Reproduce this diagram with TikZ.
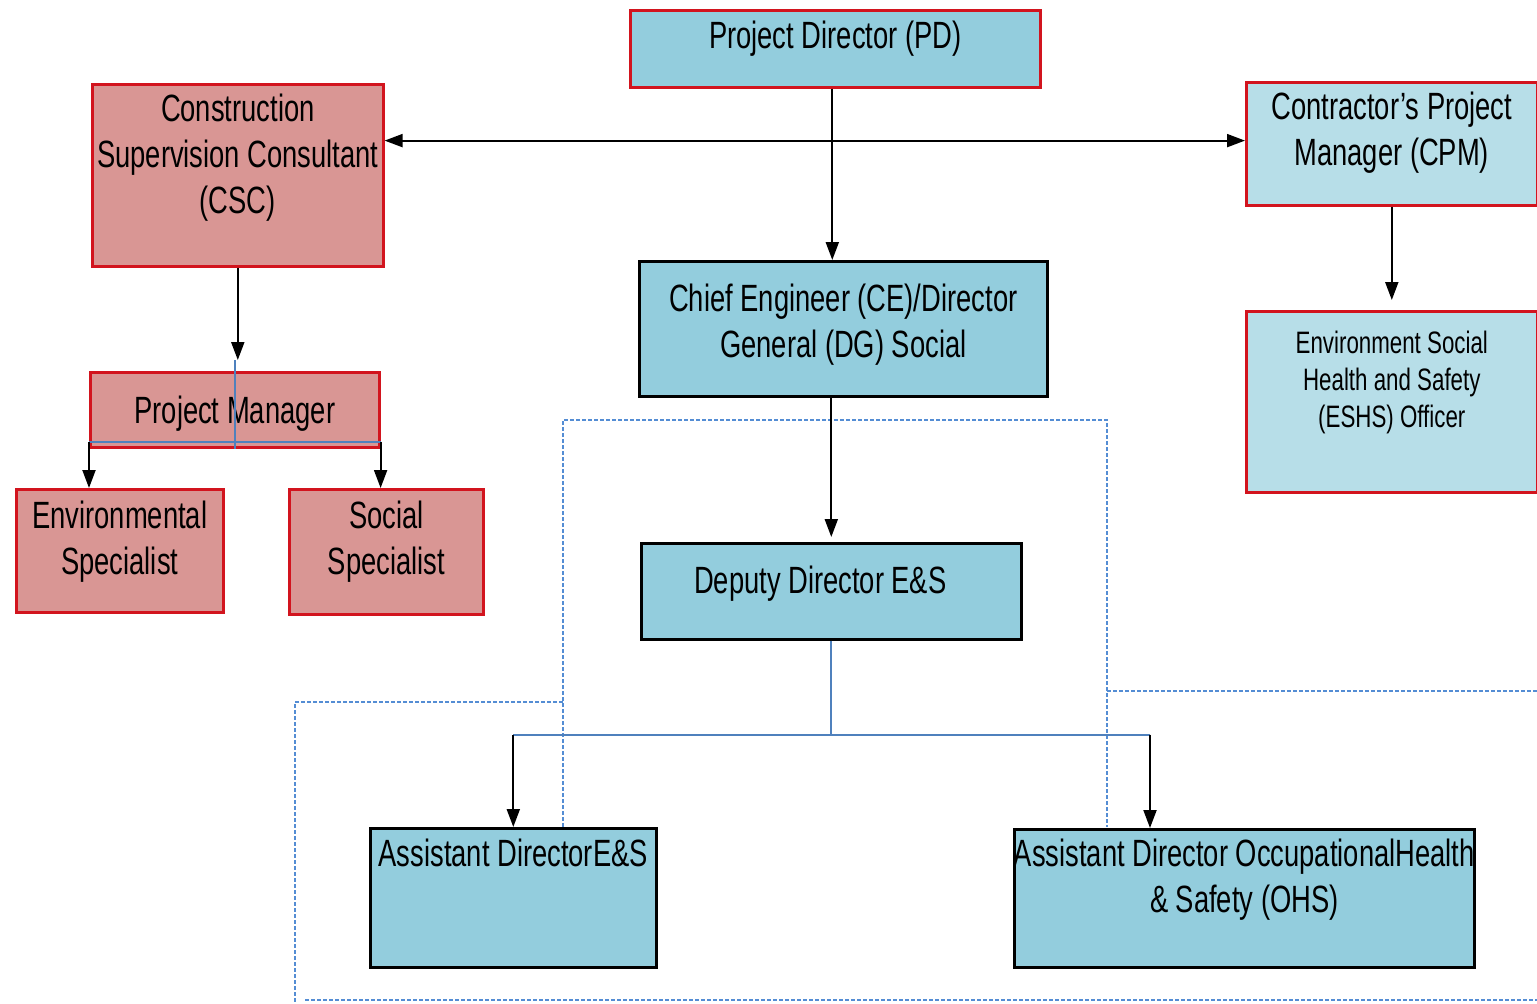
\documentclass[tikz,border=0pt]{standalone}
\usepackage{fontspec}
\setmainfont{Liberation Sans}[FakeStretch=0.72]
\usetikzlibrary{arrows.meta, positioning, calc}
\definecolor{cellblue}{RGB}{147,205,221}
\definecolor{paleblue}{RGB}{183,222,232}
\definecolor{rosered}{RGB}{217,150,148}
\definecolor{borderred}{RGB}{210,20,30}
\definecolor{linkblue}{RGB}{79,129,189}
\definecolor{frameblue}{RGB}{84,141,212}

\begin{document}
\begin{tikzpicture}[
        x=0.5pt, y=-0.5pt,
        box/.style={rectangle, anchor=north west, inner sep=0pt, line width=1.3pt},
        redbox/.style={box, draw=borderred, fill=rosered},
        bluebox/.style={box, draw=borderred, fill=cellblue},
        palebox/.style={box, draw=borderred, fill=paleblue},
        darkbox/.style={box, draw=black, fill=cellblue},
        lbl/.style={anchor=north, align=center, inner sep=0pt, yshift=#1, font=\fontsize{19}{23}\selectfont},
        smalllbl/.style={anchor=north, align=center, inner sep=0pt, yshift=#1, font=\fontsize{15.5}{18.5}\selectfont},
        arrow/.style={-{Triangle[length=9pt, width=6.5pt]}, line width=1pt, black},
        link/.style={linkblue, line width=1pt},
        framedash/.style={frameblue, line width=0.8pt, dash pattern=on 2pt off 1pt}
    ]
        \useasboundingbox (0,0) rectangle (1537,1003);

        % dashed frame lines
        \draw[framedash] (563,827) -- (563,420) -- (1107,420) -- (1107,827);
        \draw[framedash] (563,702) -- (295,702) -- (295,1003);
        \draw[framedash] (1107,691) -- (1537,691);
        \draw[framedash] (305,1000) -- (1537,1000);

        % boxes
        \node[bluebox, minimum width=205pt, minimum height=38.5pt, label={[lbl=-5.6pt]north:Project Director (PD)}] (pd) at (629,9) {};
        \node[redbox, minimum width=145.5pt, minimum height=91pt, label={[lbl=-5.1pt]north:Construction\\Supervision Consultant\\(CSC)}] (csc) at (91,83) {};
        \node[palebox, minimum width=145.5pt, minimum height=61.5pt, label={[lbl=-5.1pt]north:Contractor’s Project\\Manager (CPM)}] (cpm) at (1245,81) {};
        \node[palebox, minimum width=145.5pt, minimum height=90.5pt, label={[smalllbl=-10.2pt]north:Environment Social\\Health and Safety\\(ESHS) Officer}] (eshs) at (1245,310) {};
        \node[darkbox, minimum width=204pt, minimum height=67.5pt, label={[lbl=-11.6pt]north:Chief Engineer (CE)/Director\\General (DG) Social}] (ce) at (638,260) {};
        \node[redbox, minimum width=144.5pt, minimum height=37.5pt, label={[lbl=-12.1pt]north:Project Manager}] (pm) at (89,371) {};
        \node[redbox, minimum width=103.5pt, minimum height=61.5pt, label={[lbl=-6.1pt]north:Environmental\\Specialist}] (envsp) at (15,488) {};
        \node[redbox, minimum width=97pt, minimum height=62.5pt, label={[lbl=-6.1pt]north:Social\\Specialist}] (socsp) at (288,488) {};
        \node[darkbox, minimum width=190pt, minimum height=48pt, label={[lbl=-11.6pt, xshift=-5.5pt]north:Deputy Director E\&S}] (dd) at (640,542) {};
        \node[darkbox, minimum width=143pt, minimum height=69.5pt, label={[lbl=-5.6pt]north:Assistant DirectorE\&S}] (ades) at (369,827) {};
        \node[darkbox, minimum width=230pt, minimum height=69pt, label={[lbl=-5.1pt]north:Assistant Director OccupationalHealth\\\& Safety (OHS)}] (adohs) at (1013,828) {};

        % connectors
        \coordinate (split) at ($(pd.south)+(-3,52)$);
        \draw[arrow] ($(pd.south)+(-3,0)$) -- ($(pd.south |- ce.north)+(-3,0)$);
        \draw[arrow] (split) -- (split -| csc.east);
        \draw[arrow] (split) -- (split -| cpm.west);
        \draw[arrow] (csc.south) -- ($(csc.south |- pm.north)+(0,-11)$);
        \draw[link] ($(pm.north)+(0,-11)$) -- (pm.south);
        \draw[link] ($(pm.south west)+(0,-7)$) -- ($(pm.south east)+(0,-7)$);
        \draw[arrow] ($(pm.south west)+(0,-7)$) -- (pm.south west |- envsp.north);
        \draw[arrow] ($(pm.south east)+(0,-7)$) -- (pm.south east |- socsp.north);
        \draw[arrow] (cpm.south) -- ($(cpm.south |- eshs.north)+(0,-10)$);
        \draw[arrow] (dd.north |- ce.south) -- ($(dd.north)+(0,-5)$);
        \coordinate (fork) at ($(dd.south)+(0,94)$);
        \draw[link] (dd.south) -- (fork);
        \draw[link] (fork -| ades.north) -- ($(fork -| adohs.north west)+(137,0)$);
        \draw[arrow] (fork -| ades.north) -- (ades.north);
        \draw[arrow] ($(fork -| adohs.north west)+(137,0)$) -- ($(adohs.north west)+(137,0)$);
    \end{tikzpicture}
\end{document}
